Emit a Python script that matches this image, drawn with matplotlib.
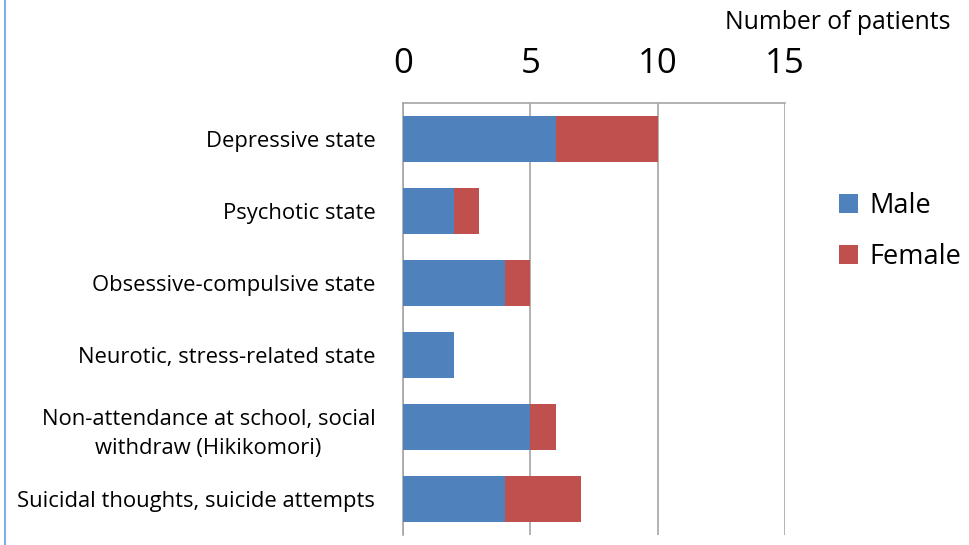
import matplotlib.pyplot as plt
from matplotlib.lines import Line2D

plt.rcParams['font.family'] = ['Open Sans', 'DejaVu Sans']

states = [
    'Depressive state',
    'Psychotic state',
    'Obsessive-compulsive state',
    'Neurotic, stress-related state',
    'Non-attendance at school, social\nwithdraw (Hikikomori)',
    'Suicidal thoughts, suicide attempts',
]
male = [6, 2, 4, 2, 5, 4]
female = [4, 1, 1, 0, 1, 3]

blue = '#4F81BD'
red = '#C0504D'

fig = plt.figure(figsize=(9.7, 5.45), dpi=100)
ax = fig.add_axes([0.4155, 0.0183, 0.3938, 0.7927])

pos = list(range(len(states)))
ax.barh(pos, male, height=0.65, color=blue, label='Male', zorder=3)
ax.barh(pos, female, left=male, height=0.65, color=red, label='Female', zorder=3)

ax.set_xlim(0, 15)
ax.set_ylim(len(states) - 0.5, -0.5)
ax.set_xticks([0, 5, 10, 15])
ax.xaxis.tick_top()
ax.tick_params(axis='x', length=0, labelsize=25, pad=16)
ax.tick_params(axis='y', length=0, labelsize=15.8, pad=20)
ax.set_yticks(pos)
ax.set_yticklabels(states, ha='right', multialignment='center', linespacing=1.5)

ax.grid(axis='x', color='#A6A6A6', linewidth=1.2, zorder=0)
for side in ['right', 'bottom']:
    ax.spines[side].set_visible(False)
for side in ['top', 'left']:
    ax.spines[side].set_color('#A6A6A6')
    ax.spines[side].set_linewidth(1.2)

fig.text(0.98, 0.958, 'Number of patients', ha='right', va='center', fontsize=17.8)

fig.legend(loc='center left', bbox_to_anchor=(0.84, 0.576), frameon=False,
           fontsize=19.5, handlelength=0.7, handleheight=0.7, handletextpad=0.4,
           labelspacing=0.85)

# thin blue border down the left edge
fig.add_artist(Line2D([0.0055, 0.0055], [0, 1], transform=fig.transFigure,
                      color='#7FAEE6', linewidth=1.5))

fig.savefig('out.png', dpi=100)
